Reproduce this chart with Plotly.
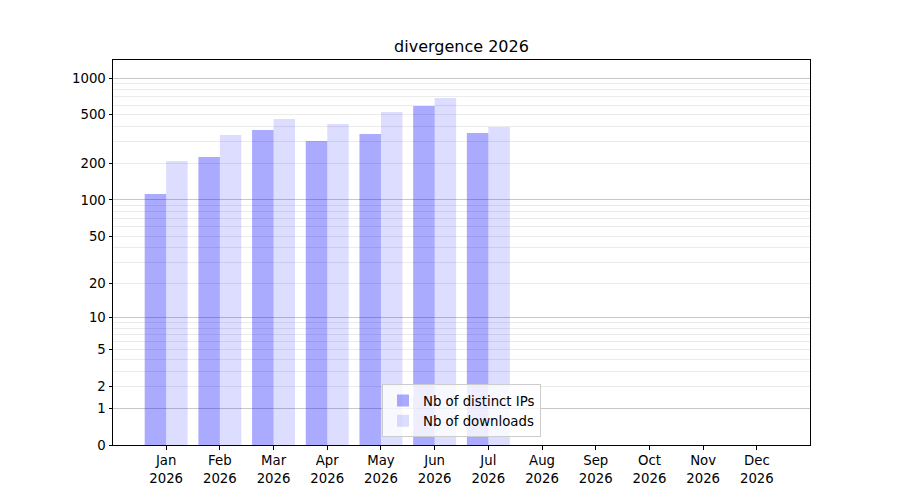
import plotly.graph_objects as go

# ---- data ----
months = ["Jan", "Feb", "Mar", "Apr", "May", "Jun", "Jul", "Aug", "Sep", "Oct", "Nov", "Dec"]
year = "2026"
distinct_ips = [112, 225, 375, 305, 348, 590, 354, 0, 0, 0, 0, 0]
downloads = [209, 341, 462, 420, 527, 686, 397, 0, 0, 0, 0, 0]
ytick_values = [0, 1, 2, 5, 10, 20, 50, 100, 200, 500, 1000]
major_grid_values = [1, 10, 100, 1000]
minor_grid_values = [2, 3, 4, 5, 6, 7, 8, 9,
                     20, 30, 40, 50, 60, 70, 80, 90,
                     200, 300, 400, 500, 600, 700, 800, 900]
shift = 1  # axis shows log10(1 + value)

def sh(vals):
    return [v + shift for v in vals]

x_pos = list(range(len(months)))
font_family = "DejaVu Sans, sans-serif"

fig = go.Figure()
fig.add_trace(go.Bar(x=x_pos, y=sh(distinct_ips), name="Nb of distinct IPs",
                     marker=dict(color="rgba(0,0,255,0.333)", line=dict(width=0))))
fig.add_trace(go.Bar(x=x_pos, y=sh(downloads), name="Nb of downloads",
                     marker=dict(color="rgba(0,0,255,0.133)", line=dict(width=0))))
fig.add_trace(go.Scatter(x=[None], y=[None], yaxis="y2", showlegend=False,
                         hoverinfo="skip", mode="markers"))

yrange = [0, 3.1477]
page_off = 8  # page body margin

fig.update_layout(
    width=900, height=500,
    margin=dict(l=112.5 - page_off, r=90 + page_off, t=60 - page_off, b=55 + page_off),
    paper_bgcolor="white", plot_bgcolor="white",
    font=dict(family=font_family, size=13.3, color="black"),
    title=dict(text="divergence 2026", x=0.5, xref="paper", xanchor="center",
               y=1 - (46 - page_off) / 500, yref="container", yanchor="middle",
               font=dict(size=16, color="black", family=font_family)),
    barmode="group", bargap=0.2, bargroupgap=0,
    showlegend=True,
    legend=dict(x=0.5, xanchor="center", y=0.02, yanchor="bottom",
                bgcolor="rgba(255,255,255,0.8)", bordercolor="#cccccc", borderwidth=1,
                font=dict(size=13.3, family=font_family, color="black"),
                traceorder="normal", tracegroupgap=0),
    xaxis=dict(
        range=[-0.99, 11.99],
        tickmode="array", tickvals=x_pos,
        ticktext=[f"{m}<br>{year}" for m in months],
        ticks="outside", ticklen=3.5, tickwidth=0.8, tickcolor="black",
        showline=True, linecolor="black", linewidth=1, mirror=True,
        showgrid=False, zeroline=False,
        tickfont=dict(size=13.3, color="black"),
    ),
    yaxis=dict(
        type="log", range=yrange,
        tickmode="array", tickvals=sh(ytick_values),
        ticktext=[str(v) for v in ytick_values],
        ticks="outside", ticklen=3.5, tickwidth=0.8, tickcolor="black",
        showline=True, linecolor="black", linewidth=1, mirror=True,
        showgrid=False, zeroline=False,
        tickfont=dict(size=13.3, color="black"),
        minor=dict(tickmode="array", tickvals=sh(minor_grid_values),
                   showgrid=True, gridcolor="#ebebeb", gridwidth=1, ticks=""),
    ),
    yaxis2=dict(
        type="log", range=yrange, overlaying="y", side="left",
        tickmode="array", tickvals=sh(major_grid_values),
        showticklabels=False, ticks="", showline=False,
        showgrid=True, gridcolor="#c8c8c8", gridwidth=1, zeroline=False,
    ),
)

fig.write_html("out.html")
